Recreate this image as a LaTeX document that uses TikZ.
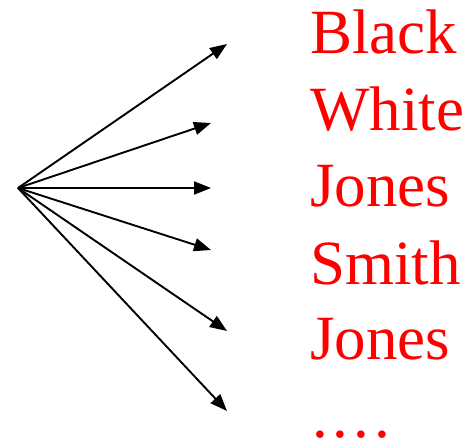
\documentclass[tikz,border=0pt]{standalone}
\usepackage{fontspec}
\setmainfont{Liberation Serif}
\usetikzlibrary{arrows.meta}
\begin{document}
\begin{tikzpicture}[x=1pt,y=-1pt,
  arr/.style={line width=1.9pt,-{Triangle[length=17pt,width=13pt]}},
  namebox/.style={inner sep=0pt,anchor=base west,text=red,text depth=0pt,font=\fontsize{63}{63}\selectfont}]
\useasboundingbox (0,0) rectangle (473,442);
\coordinate (o) at (18,188);
\coordinate (e1) at (227,44);
\coordinate (e2) at (211,123);
\coordinate (e3) at (211,188);
\coordinate (e4) at (211,250);
\coordinate (e5) at (227,331);
\coordinate (e6) at (227,411);
\foreach \i in {1,...,6} \draw[arr] (o) -- (e\i);
\node[namebox] (n1) at (310,53) {Black};
\node[namebox] (n2) at (310,130) {White};
\node[namebox] (n3) at (310,206) {Jones};
\node[namebox] (n4) at (310,284) {Smith};
\node[namebox] (n5) at (310,359) {Jones};
\node[namebox] (n6) at (312,437) {.\kern5pt.\kern5pt.\kern5pt.};
\end{tikzpicture}
\end{document}
